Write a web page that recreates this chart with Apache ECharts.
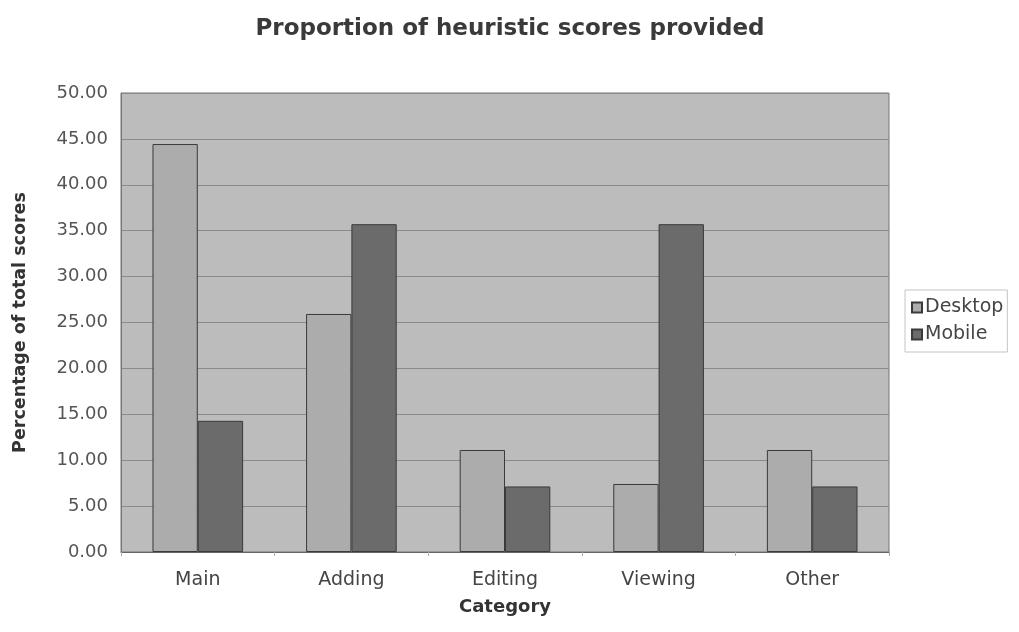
<!DOCTYPE html>
<html>
<head>
<meta charset="utf-8">
<script src="https://cdn.jsdelivr.net/npm/echarts@6/dist/echarts.min.js"></script>
<style>html,body{margin:0;padding:0;background:#fff}#c{width:1019px;height:632px}</style>
</head>
<body>
<div id="c"></div>
<script>
var categories = ['Main', 'Adding', 'Editing', 'Viewing', 'Other'];
var desktop = [44.44, 25.93, 11.11, 7.41, 11.11];
var mobile = [14.29, 35.71, 7.14, 35.71, 7.14];
var seriesNames = ['Desktop', 'Mobile'];

var FONT = 'DejaVu Sans';
var chart = echarts.init(document.getElementById('c'));
chart.setOption({
  animation: false,
  backgroundColor: '#ffffff',
  title: {
    text: 'Proportion of heuristic scores provided',
    left: 505, top: 13, textAlign: 'center',
    textStyle: { fontFamily: FONT, fontWeight: 'bold', fontSize: 23, color: '#3a3a3a' }
  },
  legend: {
    orient: 'vertical', left: 905, top: 290,
    icon: 'rect', itemWidth: 10, itemHeight: 10, itemGap: 8,
    padding: [8, 4, 8, 6],
    borderColor: '#c4c4c4', borderWidth: 1,
    textStyle: { fontFamily: FONT, fontSize: 19, color: '#444', padding: [0, 0, 0, -2] },
    data: seriesNames
  },
  grid: { left: 121, right: 130, top: 93, bottom: 80, backgroundColor: '#bcbcbc', show: true, borderColor: '#777', borderWidth: 1 },
  xAxis: {
    type: 'category', data: categories,
    name: 'Category', nameLocation: 'middle', nameGap: 46,
    nameTextStyle: { fontFamily: FONT, fontWeight: 'bold', fontSize: 18, color: '#333' },
    axisLine: { lineStyle: { color: '#666' } },
    axisTick: { show: true, length: 4, lineStyle: { color: '#aaa' } },
    axisLabel: { fontFamily: FONT, fontSize: 19, color: '#444', margin: 19 }
  },
  yAxis: {
    type: 'value', min: 0, max: 50, interval: 5,
    name: 'Percentage of total scores', nameLocation: 'middle', nameGap: 92,
    nameTextStyle: { fontFamily: FONT, fontWeight: 'bold', fontSize: 17.5, color: '#333' },
    axisLine: { show: true, lineStyle: { color: '#777' } },
    axisTick: { show: false },
    axisLabel: { fontFamily: FONT, fontSize: 18, color: '#555', margin: 13,
      formatter: function (v) { return v.toFixed(2); } },
    splitLine: { lineStyle: { color: '#8a8a8a', width: 1 } }
  },
  series: [
    { name: seriesNames[0], type: 'bar', data: desktop, barGap: '0%', barCategoryGap: '41%',
      itemStyle: { color: '#acacac', borderColor: '#3a3a3a', borderWidth: 1 } },
    { name: seriesNames[1], type: 'bar', data: mobile,
      itemStyle: { color: '#6b6b6b', borderColor: '#3a3a3a', borderWidth: 1 } }
  ]
});
</script>
</body>
</html>
